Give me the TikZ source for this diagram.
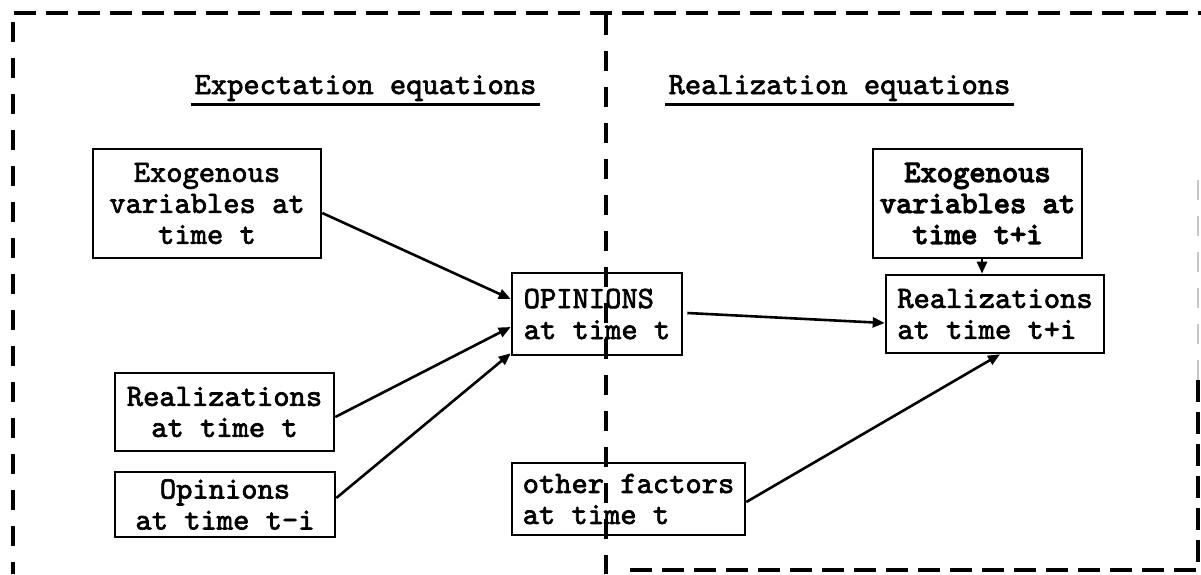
\documentclass[tikz,border=0pt]{standalone}
\usepackage{fontspec}
\usetikzlibrary{calc,arrows.meta}
\newfontfamily\typewriter{lmmono10-regular.otf}[FakeBold=2.2]
\newfontfamily\typewriterheavy{lmmono10-regular.otf}[FakeBold=4]
\newcommand\twsize{\fontsize{15.5pt}{15.5pt}\selectfont}

\begin{document}
\begin{tikzpicture}[x=0.5pt,y=-0.5pt,
  frame/.style={line width=1.8pt, dash pattern=on 10pt off 8pt},
  topframe/.style={line width=1.8pt, dash pattern=on 11pt off 5pt},
  box/.style={draw, line width=1.3pt, inner sep=0pt, font=\typewriter\twsize},
  title/.style={inner sep=0pt, font=\typewriter\twsize},
  link/.style={line width=1.3pt, -{Triangle[length=6pt,width=5pt]}},
]
\useasboundingbox (0,0) rectangle (1201,574);
\fill[white] (0,0) rectangle (1201,574);

% section titles
\node[title] (expT) at (365.5,88) {Expectation equations};
\node[title] (realT) at (839.5,88) {Realization equations};
\draw[line width=1.5pt] ($(expT.base west)+(-3,10)$) -- ($(expT.base east)+(3,10)$);
\draw[line width=1.5pt] ($(realT.base west)+(-3,10)$) -- ($(realT.base east)+(3,10)$);

% expectation side
\node[box, align=center, minimum width=114pt, minimum height=54.5pt] (exoL) at (207,203.5) {Exogenous\\variables at\\time t};
\node[box, align=center, minimum width=109.5pt, minimum height=39pt] (realL) at (224.5,412) {Realizations\\at time t};
\node[box, align=center, minimum width=110pt, minimum height=32.5pt] (opL) at (225,504.5) {Opinions\\at time t-i};
\node[box, align=left, minimum width=85pt, minimum height=41pt] (opin) at (597,314) {OPINIONS\\at time t};

% realization side
\node[box, align=center, minimum width=104.5pt, minimum height=54.5pt, font=\typewriterheavy\twsize] (exoR) at (977.5,203.5) {Exogenous\\variables at\\time t+i};
\node[box, align=left, minimum width=109pt, minimum height=39pt] (realR) at (995,314) {Realizations\\at time t+i};
\node[box, align=left, minimum width=116.5pt, minimum height=36pt] (other) at (628.5,499) {other factors\\at time t};

% connectors
\draw[link] ($(exoL.east)+(0,9.5)$) -- ($(opin.west)+(0,-15)$);
\draw[link] ($(realL.east)+(0,5)$) -- ($(opin.west)+(0,13)$);
\draw[link] ($(opL.east)+(0,-6.5)$) -- ($(opin.south west)+(0,-3)$);
\draw[link] ($(opin.east)+(4,-1)$) -- ($(realR.west)+(0,9)$);
\draw[link] ($(exoR.south)+(4.5,0)$) -- ($(realR.north)+(-13,0)$);
\draw[link] ($(other.east)+(0,3)$) -- ($(realR.south)+(5,0)$);

% dashed frame and divider
\draw[topframe] (14,13) -- (1201,13);
\draw[frame] (13,22) -- (13,574);
\draw[frame] (606,15) -- (606,574);
\draw[frame, draw=gray!45, line width=1pt] (1198,180) -- (1198,380);
\draw[topframe] (1198,380) -- (1198,570) -- (630,570);
\end{tikzpicture}
\end{document}
